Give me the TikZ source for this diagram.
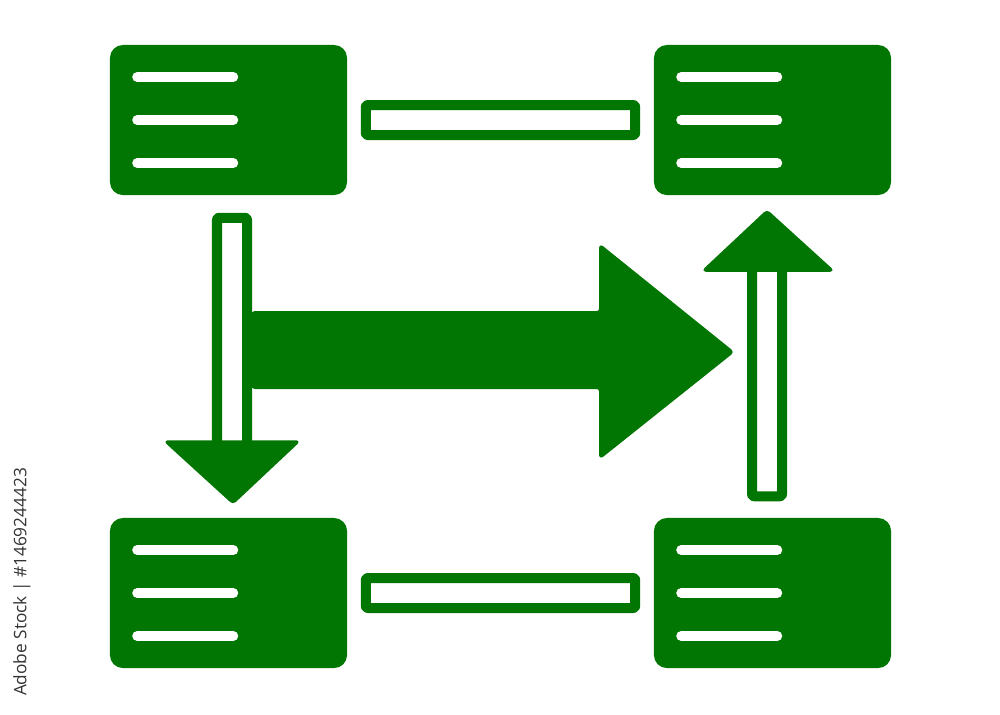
\documentclass[tikz,border=0pt]{standalone}
\usepackage{fontspec}
\newfontfamily\wmfont{Open Sans}
\usetikzlibrary{calc}
\definecolor{grn}{RGB}{2,118,2}
\tikzset{
  box/.style={fill=grn, rounded corners=0.13cm, minimum width=2.37cm, minimum height=1.5cm, inner sep=0pt},
  txtline/.style={white, line width=0.1cm, line cap=round},
  hollow/.style={draw=grn, fill=white, line width=0.1cm, line join=round, rounded corners=0.02cm},
  solidhead/.style={fill=grn, draw=grn, line width=0.02cm, line join=round, rounded corners=0.03cm},
}
\begin{document}
\begin{tikzpicture}[x=0.01cm,y=-0.01cm]
\useasboundingbox (0,0) rectangle (1000,714);
% boxes
\node[box] (tl) at (228.5,120) {};
\node[box] (tr) at (772.5,120) {};
\node[box] (bl) at (228.5,593) {};
\node[box] (br) at (772.5,593) {};
% text lines in boxes
\foreach \b in {tl,tr,bl,br}{
  \foreach \dy in {-43,0,43}{
    \draw[txtline] (\b.west) ++(28,\dy) -- ++(96,0);
  }
}
% horizontal bars
\draw[hollow] ($(tl.east)+(18,-15)$) rectangle ($(tr.west)+(-18,15)$);
\draw[hollow] ($(bl.east)+(18,-15)$) rectangle ($(br.west)+(-18,15)$);
% down arrow tl -> bl
\draw[hollow] ($(tl.south)+(-11.5,22)$) rectangle ($(bl.north)+(18.5,-70)$);
\fill[solidhead] ($(bl.north)+(-63.5,-76)$) -- ($(bl.north)+(70.5,-76)$) -- ($(bl.north)+(4.5,-14)$) -- cycle;
% up arrow br -> tr
\draw[hollow] ($(br.north)+(-20.5,-21)$) rectangle ($(tr.south)+(9.5,68)$);
\fill[solidhead] ($(tr.south)+(-69.5,75)$) -- ($(tr.south)+(60.5,75)$) -- ($(tr.south)+(-5.5,15)$) -- cycle;
% big central arrow
\coordinate (bigs) at (252,350);
\coordinate (bige) at (733,352);
\fill[solidhead] ($(bigs)+(0,-38)$) -- (600,312) -- (600,245) -- (bige) -- (600,458) -- (600,388) -- ($(bigs)+(0,38)$) -- cycle;
% side text
\node[rotate=90, text=black!80, font=\wmfont\fontsize{4.9}{6}\selectfont, inner sep=0pt] (wm) at (22,582) {Adobe Stock | \#1469244423};
\end{tikzpicture}
\end{document}
